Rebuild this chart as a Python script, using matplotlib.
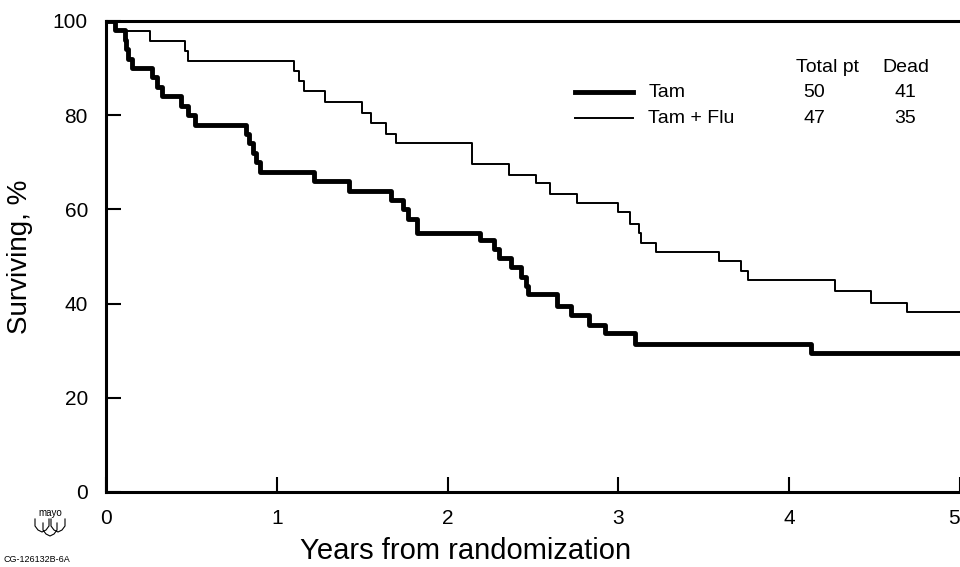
import matplotlib
matplotlib.use("Agg")
import matplotlib.pyplot as plt
from matplotlib.lines import Line2D

plt.rcParams['font.family'] = ['Liberation Sans', 'DejaVu Sans']

# Kaplan-Meier steps (years, % surviving)
tam_t = [0, 0.05, 0.11, 0.12, 0.13, 0.15, 0.27, 0.30, 0.33, 0.44, 0.48, 0.52,
         0.82, 0.84, 0.86, 0.88, 0.90, 1.22, 1.42, 1.67, 1.74, 1.77, 1.82,
         2.19, 2.27, 2.30, 2.37, 2.43, 2.46, 2.47, 2.64, 2.72, 2.83, 2.92,
         3.10, 4.13, 5.0]
tam_s = [100, 98, 96, 94, 92, 90, 88, 86, 84, 82, 80, 78,
         76, 74, 72, 70, 68, 66, 64, 62, 60, 58, 55,
         53.4, 51.6, 49.7, 47.7, 45.7, 43.8, 42, 39.5, 37.5, 35.5, 33.7,
         31.5, 29.5, 29.5]

flu_t = [0, 0.06, 0.26, 0.46, 0.48, 1.10, 1.13, 1.16, 1.28, 1.50, 1.55, 1.64,
         1.70, 2.14, 2.36, 2.52, 2.60, 2.76, 3.00, 3.07, 3.12, 3.13, 3.22,
         3.59, 3.72, 3.76, 4.27, 4.48, 4.69, 5.0]
flu_s = [100, 97.9, 95.7, 93.6, 91.5, 89.4, 87.2, 85.1, 82.9, 80.4, 78.3, 76.1,
         74, 69.6, 67.4, 65.5, 63.3, 61.4, 59.5, 57, 55, 52.9, 50.9,
         49, 47, 45, 42.6, 40.2, 38.2, 38.2]

groups = ["Tam", "Tam + Flu"]
total_pt = [50, 47]
dead = [41, 35]

fig = plt.figure(figsize=(9.6, 5.67), dpi=100)
ax = fig.add_axes([0.1104, 0.1323, 0.8896, 0.8307])

ax.step(tam_t, tam_s, where='post', color='black', lw=3.5)
ax.step(flu_t, flu_s, where='post', color='black', lw=1.4)

ax.set_xlim(0, 5)
ax.set_ylim(0, 100)
ax.set_xticks([0, 1, 2, 3, 4, 5])
ax.set_yticks([0, 20, 40, 60, 80, 100])
ax.tick_params(direction='in', length=11, width=1.5, labelsize=15)
ax.tick_params(axis='x', pad=12)
ax.tick_params(axis='y', pad=13)
# last x label sits on the right edge, nudge it inside
ax.get_xticklabels()[-1].set_horizontalalignment('right')
for side in ['left', 'bottom', 'top']:
    ax.spines[side].set_linewidth(2.2)
ax.spines['right'].set_visible(False)

ax.set_ylabel("Surviving, %", fontsize=20, labelpad=14)
ax.set_xlabel("Years from randomization", fontsize=21)
ax.xaxis.set_label_coords(0.4215, -0.095)

# hand-made legend table
ys = [0.849, 0.794]
lws = [3.5, 1.4]
for i in range(2):
    ax.plot([0.549, 0.617], [ys[i], ys[i]], transform=ax.transAxes,
            color='black', lw=lws[i])
    ax.text(0.635, ys[i], groups[i], transform=ax.transAxes, fontsize=14,
            va='center', ha='left')
    ax.text(0.829, ys[i], str(total_pt[i]), transform=ax.transAxes, fontsize=14,
            va='center', ha='center')
    ax.text(0.936, ys[i], str(dead[i]), transform=ax.transAxes, fontsize=14,
            va='center', ha='center')
ax.text(0.845, 0.902, "Total pt", transform=ax.transAxes, fontsize=14,
        va='center', ha='center')
ax.text(0.937, 0.902, "Dead", transform=ax.transAxes, fontsize=14,
        va='center', ha='center')

# corner logo and code
W, H = 960.0, 567.0
fig.text(50 / W, 1 - 513 / H, "mayo", fontsize=7, ha='center', va='center')
for cx, top in [(42, 519), (58, 519), (50, 523)]:
    xs = [cx - 7, cx - 7, cx - 4, cx, cx + 4, cx + 7, cx + 7]
    yv = [top, top + 7, top + 11, top + 13, top + 11, top + 7, top]
    fig.add_artist(Line2D([x / W for x in xs], [1 - y / H for y in yv],
                          color='black', lw=0.8))
fig.text(4 / W, 0.006, "CG-126132B-6A", fontsize=6.5, ha='left', va='bottom')

fig.savefig("out.png", dpi=100)
